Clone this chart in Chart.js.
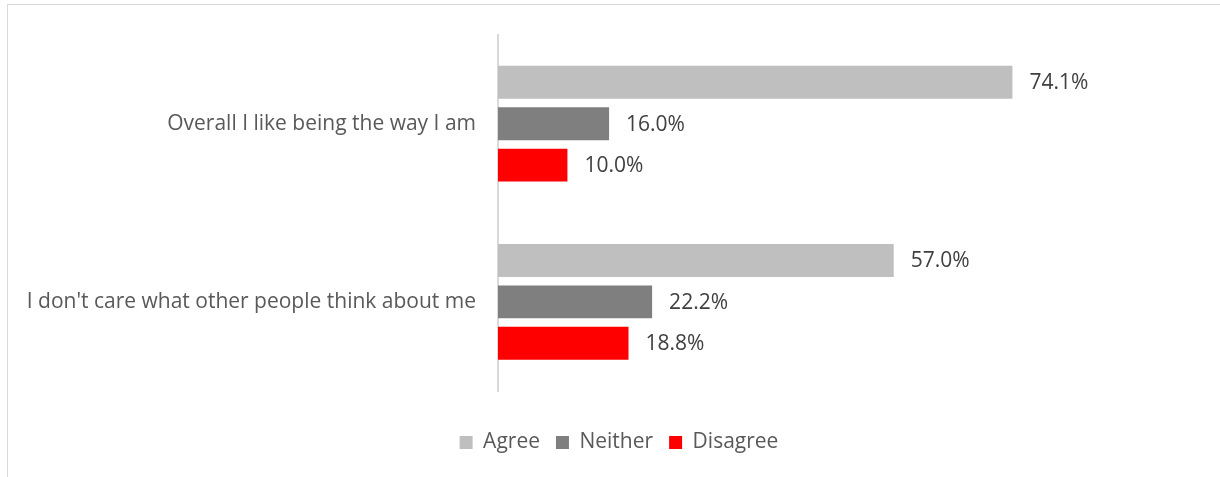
<!DOCTYPE html>
<html>
<head>
<meta charset="utf-8">
<script src="https://cdn.jsdelivr.net/npm/chart.js@4/dist/chart.umd.min.js"></script>
<style>
  html, body { margin: 0; padding: 0; background: #fff; }
  #wrap { position: relative; width: 1220px; height: 477px; overflow: hidden; }
  #frame { position: absolute; left: 7px; top: 4px; width: 1300px; height: 600px; border: 1.5px solid #d9d9d9; box-sizing: border-box; }
  canvas { position: absolute; left: 0; top: 0; }
</style>
</head>
<body>
<div id="wrap">
  <div id="frame"></div>
  <canvas id="c" width="1220" height="477"></canvas>
</div>
<script>
const categories = ["Overall I like being the way I am", "I don't care what other people think about me"];
const seriesNames = ["Agree", "Neither", "Disagree"];
const agree = [74.1, 57.0];
const neither = [16.0, 22.2];
const disagree = [10.0, 18.8];
const colors = ["#bfbfbf", "#7f7f7f", "#ff0000"];

const FONT = "'Open Sans', 'Noto Sans', sans-serif";

const valueLabels = {
  id: 'valueLabels',
  afterDatasetsDraw(chart) {
    const ctx = chart.ctx;
    ctx.save();
    ctx.font = "21px " + FONT;
    ctx.fillStyle = "#404040";
    ctx.textBaseline = "middle";
    ctx.textAlign = "left";
    chart.data.datasets.forEach((ds, di) => {
      const meta = chart.getDatasetMeta(di);
      meta.data.forEach((el, i) => {
        ctx.fillText(ds.data[i].toFixed(1) + "%", el.x + 17, el.y + 1);
      });
    });
    ctx.restore();
  }
};

new Chart(document.getElementById('c'), {
  type: 'bar',
  data: {
    labels: categories,
    datasets: [
      { label: seriesNames[0], data: agree, backgroundColor: colors[0] },
      { label: seriesNames[1], data: neither, backgroundColor: colors[1] },
      { label: seriesNames[2], data: disagree, backgroundColor: colors[2] }
    ]
  },
  options: {
    indexAxis: 'y',
    responsive: false,
    animation: false,
    devicePixelRatio: 1,
    layout: { padding: { left: 18, right: 0, top: 33, bottom: 14 } },
    datasets: { bar: { categoryPercentage: 0.697, barPercentage: 0.795 } },
    scales: {
      x: { min: 0, max: 104, display: false },
      y: {
        grid: { display: false, drawTicks: false },
        border: { display: true, color: '#d9d9d9', width: 2 },
        ticks: { font: { size: 21, family: FONT }, color: '#595959', padding: 22 },
        afterFit(scale) { scale.width = 480; }
      }
    },
    plugins: {
      legend: {
        position: 'bottom',
        title: { display: true, text: '', font: { size: 10, lineHeight: 1.2 }, padding: { top: 13, bottom: 0 } },
        labels: {
          font: { size: 21, family: FONT },
          color: '#595959',
          boxWidth: 13,
          boxHeight: 13,
          padding: 16
        }
      },
      tooltip: { enabled: false }
    }
  },
  plugins: [valueLabels]
});
</script>
</body>
</html>
